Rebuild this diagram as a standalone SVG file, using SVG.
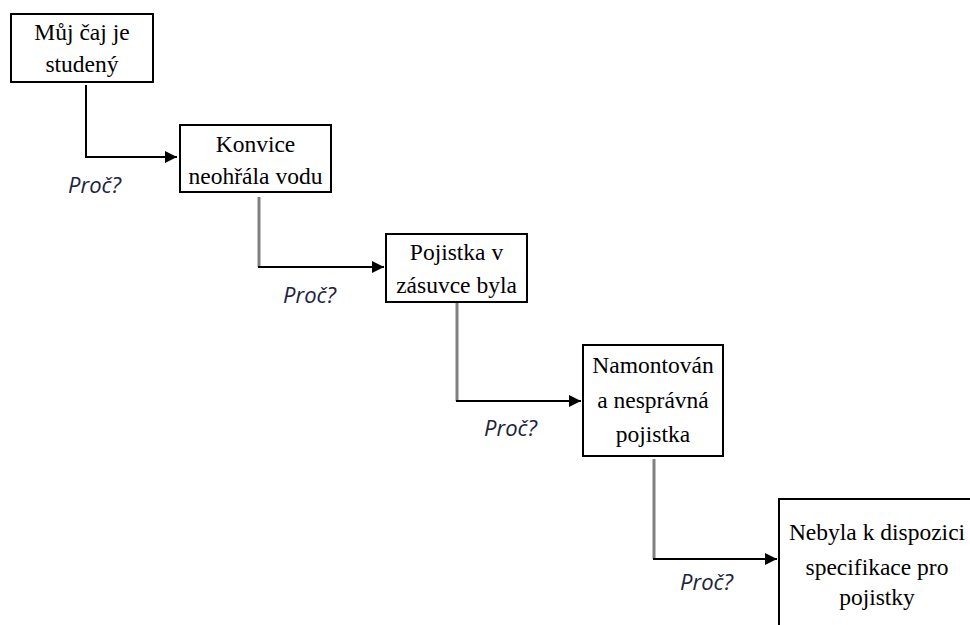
<svg xmlns="http://www.w3.org/2000/svg" width="970" height="625" viewBox="0 0 970 625">
  <style>
    .box { fill: #ffffff; stroke: #000000; stroke-width: 2; }
    .lbl { font-family: "Liberation Serif", "Times New Roman", serif; font-size: 23.5px; fill: #000000; text-anchor: middle; }
    .why { font-family: "Open Sans", "Liberation Sans", sans-serif; font-style: italic; font-size: 22px; fill: #1c2340; }
    .down { fill: none; stroke: #808080; stroke-width: 3; }
    .across { fill: none; stroke: #000000; stroke-width: 2; }
  </style>
  <defs>
    <marker id="arrow" markerUnits="userSpaceOnUse" markerWidth="12" markerHeight="12" refX="12" refY="6" orient="auto">
      <path d="M0,0 L12,6 L0,12 Z" fill="#000000"/>
    </marker>
  </defs>
  <rect width="970" height="625" fill="#ffffff"/>

  <g id="connectors">
    <path class="across" d="M86,85 V157 H177" marker-end="url(#arrow)"/>
    <path class="down" d="M259,197 V267"/>
    <path class="across" d="M258,267 H384" marker-end="url(#arrow)"/>
    <path class="down" d="M457,302 V401"/>
    <path class="across" d="M456,401 H581" marker-end="url(#arrow)"/>
    <path class="down" d="M654,459 V559"/>
    <path class="across" d="M653,559 H777" marker-end="url(#arrow)"/>
    <text class="why" x="68" y="193">Proč?</text>
    <text class="why" x="283" y="303">Proč?</text>
    <text class="why" x="484" y="436">Proč?</text>
    <text class="why" x="680" y="590">Proč?</text>
  </g>

  <g id="n1">
    <rect class="box" x="11" y="14" width="142" height="68"/>
    <text class="lbl" x="82" y="40">Můj čaj je</text>
    <text class="lbl" x="82" y="72">studený</text>
  </g>
  <g id="n2">
    <rect class="box" x="180" y="125" width="151" height="67"/>
    <text class="lbl" x="255.5" y="152">Konvice</text>
    <text class="lbl" x="255.5" y="184">neohřála vodu</text>
  </g>
  <g id="n3">
    <rect class="box" x="386" y="234" width="141" height="68"/>
    <text class="lbl" x="456.5" y="260">Pojistka v</text>
    <text class="lbl" x="456.5" y="293">zásuvce byla</text>
  </g>
  <g id="n4">
    <rect class="box" x="583" y="345" width="140" height="111"/>
    <text class="lbl" x="653" y="373">Namontován</text>
    <text class="lbl" x="653" y="408">a nesprávná</text>
    <text class="lbl" x="653" y="442">pojistka</text>
  </g>
  <g id="n5">
    <rect class="box" x="779" y="499" width="200" height="140"/>
    <text class="lbl" x="877" y="540">Nebyla k dispozici</text>
    <text class="lbl" x="877" y="575">specifikace pro</text>
    <text class="lbl" x="877" y="605">pojistky</text>
  </g>
</svg>
